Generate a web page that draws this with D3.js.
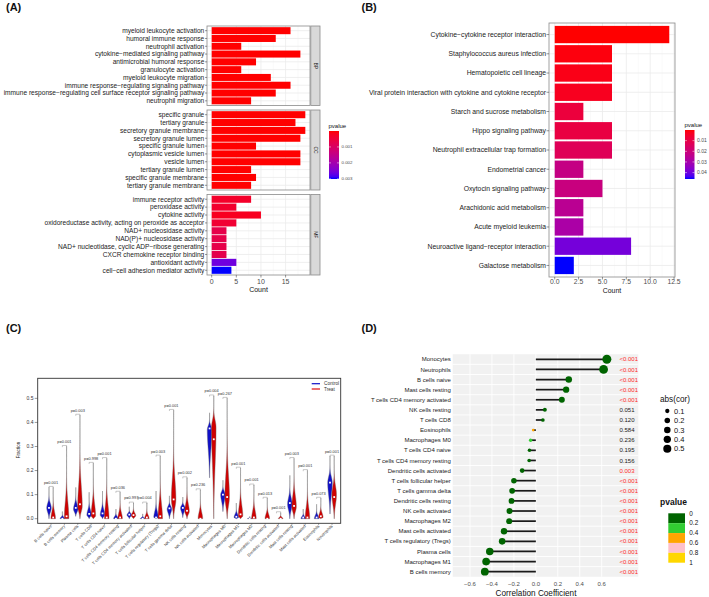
<!DOCTYPE html>
<html>
<head>
<meta charset="utf-8">
<script src="https://cdn.jsdelivr.net/npm/d3@7/dist/d3.min.js"></script>
<style>
body { margin: 0; background: #fff; }
text { font-family: "Liberation Sans", Arial, sans-serif; }
</style>
</head>
<body>
<svg id="canvas" width="709" height="597"></svg>
<script>
// ---------- (A) GO enrichment ----------
let bpTerms = ['myeloid leukocyte activation', 'humoral immune response', 'neutrophil activation',
  'cytokine\u2212mediated signaling pathway', 'antimicrobial humoral response', 'granulocyte activation',
  'myeloid leukocyte migration', 'immune response\u2212regulating signaling pathway',
  'immune response\u2212regulating cell surface receptor signaling pathway', 'neutrophil migration']
let bpCounts = [16, 13, 6, 18, 9, 6, 12, 16, 13, 8]
let bpPvalues = [1e-9, 1e-9, 1e-9, 1e-9, 1e-9, 1e-9, 1e-9, 1e-9, 1e-9, 1e-9]

let ccTerms = ['specific granule', 'tertiary granule', 'secretory granule membrane', 'secretory granule lumen',
  'specific granule lumen', 'cytoplasmic vesicle lumen', 'vesicle lumen', 'tertiary granule lumen',
  'specific granule membrane', 'tertiary granule membrane']
let ccCounts = [19, 17, 19, 18, 9, 18, 18, 8, 9, 8]
let ccPvalues = [1e-9, 1e-9, 1e-9, 1e-9, 1e-9, 1e-9, 1e-9, 1e-9, 1e-9, 1e-9]

let mfTerms = ['immune receptor activity', 'peroxidase activity', 'cytokine activity',
  'oxidoreductase activity, acting on peroxide as acceptor', 'NAD+ nucleosidase activity',
  'NAD(P)+ nucleosidase activity', 'NAD+ nucleotidase, cyclic ADP\u2212ribose generating',
  'CXCR chemokine receptor binding', 'antioxidant activity', 'cell\u2212cell adhesion mediator activity']
let mfCounts = [8, 5, 10, 5, 3, 3, 3, 3, 5, 4]
let mfPvalues = [0.0003, 0.00035, 0.0002, 0.0004, 0.00068, 0.00068, 0.00068, 0.00072, 0.0026, 0.00301]

let goTicks = [0, 5, 10, 15]
let goLegendTicks = [0.001, 0.002, 0.003]

// ---------- (B) KEGG enrichment ----------
let keggTerms = ['Cytokine\u2212cytokine receptor interaction', 'Staphylococcus aureus infection',
  'Hematopoietic cell lineage', 'Viral protein interaction with cytokine and cytokine receptor',
  'Starch and sucrose metabolism', 'Hippo signaling pathway', 'Neutrophil extracellular trap formation',
  'Endometrial cancer', 'Oxytocin signaling pathway', 'Arachidonic acid metabolism',
  'Acute myeloid leukemia', 'Neuroactive ligand\u2212receptor interaction', 'Galactose metabolism']
let keggCounts = [12, 6, 6, 6, 3, 6, 6, 3, 5, 3, 3, 8, 2]
let keggPvalues = [0.00001, 0.001, 0.002, 0.003, 0.008, 0.009, 0.013, 0.022, 0.021, 0.025, 0.029, 0.039, 0.046]
let keggTicks = [0, 2.5, 5, 7.5, 10, 12.5]
let keggLegendTicks = [0.01, 0.02, 0.03, 0.04]

// ---------- (C) immune infiltration violins ----------
let cellTypes = ['B cells naive', 'B cells memory', 'Plasma cells', 'T cells CD8', 'T cells CD4 naive',
  'T cells CD4 memory resting', 'T cells CD4 memory activated', 'T cells follicular helper',
  'T cells regulatory (Tregs)', 'T cells gamma delta', 'NK cells resting', 'NK cells activated',
  'Monocytes', 'Macrophages M0', 'Macrophages M1', 'Macrophages M2', 'Dendritic cells resting',
  'Dendritic cells activated', 'Mast cells resting', 'Mast cells activated', 'Eosinophils', 'Neutrophils']
let violinP = ['p=0.001', 'p=0.001', 'p=0.003', 'p=0.998', 'p=0.001', 'p=0.036', 'p=0.997', 'p=0.004',
  'p=0.003', 'p=0.001', 'p=0.002', 'p=0.236', 'p=0.004', 'p=0.267', 'p=0.001', 'p=0.001', 'p=0.013',
  'p=0.001', 'p=0.003', 'p=0.001', 'p=0.073', 'p=0.001']
// control group: min, max, median, densest value
let controlMin = [0, 0, 0.01, 0, 0, 0, 0, 0, 0, 0, 0.005, 0, 0.17, 0.03, 0, 0, 0, 0, 0, 0, 0, 0.02]
let controlMax = [0.13, 0.03, 0.13, 0.11, 0.115, 0.04, 0.05, 0.02, 0.115, 0.095, 0.09, 0, 0.44, 0.16, 0.065, 0.01, 0, 0, 0.18, 0.04, 0.06, 0.26]
let controlMedian = [0.045, 0, 0.045, 0.02, 0.022, 0, 0.017, 0, 0.005, 0.043, 0.045, 0, 0.375, 0.1, 0.008, 0, 0, 0, 0.065, 0.005, 0.005, 0.15]
let controlMode = [0.045, 0, 0.04, 0.015, 0.015, 0, 0.015, 0, 0.005, 0.04, 0.045, 0, 0.37, 0.1, 0.005, 0, 0, 0, 0.06, 0, 0, 0.15]
// treat group
let treatMin = [0, 0, 0, 0, 0, 0, 0, 0, 0, 0, 0, 0, 0, 0, 0, 0, 0, 0, 0, 0, 0, 0]
let treatMax = [0.13, 0.3, 0.43, 0.23, 0.25, 0.11, 0.065, 0.065, 0.26, 0.45, 0.17, 0.12, 0.51, 0.5, 0.21, 0.14, 0.085, 0.025, 0.25, 0.2, 0.085, 0.26]
let treatMedian = [0.005, 0.01, 0.06, 0.022, 0.005, 0.005, 0.015, 0.005, 0.01, 0.08, 0.033, 0, 0.33, 0.09, 0.018, 0.005, 0, 0, 0.053, 0.005, 0.01, 0.09]
let treatMode = [0, 0, 0.05, 0.01, 0, 0, 0.012, 0, 0, 0.08, 0.03, 0, 0.38, 0.09, 0.01, 0, 0, 0, 0.05, 0, 0.005, 0.1]
let fractionTicks = [0, 0.1, 0.2, 0.3, 0.4, 0.5]

// ---------- (D) correlation lollipop ----------
let corCells = ['Monocytes', 'Neutrophils', 'B cells naive', 'Mast cells resting', 'T cells CD4 memory activated',
  'NK cells resting', 'T cells CD8', 'Eosinophils', 'Macrophages M0', 'T cells CD4 naive',
  'T cells CD4 memory resting', 'Dendritic cells activated', 'T cells follicular helper', 'T cells gamma delta',
  'Dendritic cells resting', 'NK cells activated', 'Macrophages M2', 'Mast cells activated',
  'T cells regulatory (Tregs)', 'Plasma cells', 'Macrophages M1', 'B cells memory']
let corValues = [0.647, 0.617, 0.30, 0.276, 0.237, 0.082, 0.064, -0.024, -0.048, -0.058, -0.061, -0.125,
  -0.2, -0.216, -0.222, -0.24, -0.243, -0.29, -0.307, -0.42, -0.453, -0.465]
let corPvalues = [0.0005, 0.0005, 0.0005, 0.0005, 0.0005, 0.051, 0.120, 0.584, 0.236, 0.195, 0.156, 0.003,
  0.0005, 0.0005, 0.0005, 0.0005, 0.0005, 0.0005, 0.0005, 0.0005, 0.0005, 0.0005]
let corPText = ['<0.001', '<0.001', '<0.001', '<0.001', '<0.001', '0.051', '0.120', '0.584', '0.236', '0.195',
  '0.156', '0.003', '<0.001', '<0.001', '<0.001', '<0.001', '<0.001', '<0.001', '<0.001', '<0.001', '<0.001', '<0.001']
let corTicks = [-0.6, -0.4, -0.2, 0, 0.2, 0.4, 0.6]
let sizeBreaks = [0.1, 0.2, 0.3, 0.4, 0.5]
let pBreaks = [0, 0.2, 0.4, 0.6, 0.8, 1]
let pBinColors = ['#006400', '#32cd32', '#ffa500', '#ffc0cb', '#ffd700']

let svg = d3.select('#canvas')
let defs = svg.append('defs')

let panelLetter = (x, y, t) => {
  svg.append('text').attr('x', x).attr('y', y).text(t)
    .attr('font-size', 11).attr('font-weight', 'bold').attr('fill', '#111')
}
panelLetter(6, 10.5, '(A)')
panelLetter(361.5, 10.5, '(B)')
panelLetter(6, 331.5, '(C)')
panelLetter(361.5, 331.5, '(D)')

let makeGradient = (id, color, lo, hi) => {
  let grad = defs.append('linearGradient').attr('id', id)
    .attr('x1', 0).attr('y1', 0).attr('x2', 0).attr('y2', 1)
  d3.range(0, 1.0001, 0.05).forEach((t) => {
    grad.append('stop').attr('offset', t).attr('stop-color', color(lo + t * (hi - lo)))
  })
}

// ================= panel A =================
let goAll = [...bpPvalues, ...ccPvalues, ...mfPvalues]
let goMin = d3.min(goAll), goMax = d3.max(goAll)
let colorA = d3.scaleLinear().domain([goMin, goMax]).range(['red', 'blue']).interpolate(d3.interpolateLab)
let xA = d3.scaleLinear().domain([-0.95, 19.95]).range([207, 310])

let goPanels = [
  {terms: bpTerms, counts: bpCounts, p: bpPvalues, strip: 'BP', top: 26, bottom: 105.5},
  {terms: ccTerms, counts: ccCounts, p: ccPvalues, strip: 'CC', top: 110, bottom: 190},
  {terms: mfTerms, counts: mfCounts, p: mfPvalues, strip: 'MF', top: 194.5, bottom: 275}
]

goPanels.forEach((panel) => {
  let y = d3.scaleBand().domain(panel.terms).range([panel.top, panel.bottom])
    .paddingInner(0.1).paddingOuter(0.15)
  let g = svg.append('g')
  g.append('rect').attr('x', 207).attr('y', panel.top).attr('width', 103)
    .attr('height', panel.bottom - panel.top).attr('fill', '#fff')
  g.selectAll('line.minor').data([2.5, 7.5, 12.5, 17.5]).join('line')
    .attr('x1', d => xA(d)).attr('x2', d => xA(d)).attr('y1', panel.top).attr('y2', panel.bottom)
    .attr('stroke', '#f4f4f4').attr('stroke-width', 0.5)
  g.selectAll('line.major').data(goTicks).join('line')
    .attr('x1', d => xA(d)).attr('x2', d => xA(d)).attr('y1', panel.top).attr('y2', panel.bottom)
    .attr('stroke', '#ebebeb').attr('stroke-width', 0.8)
  g.selectAll('line.hgrid').data(panel.terms).join('line')
    .attr('x1', 207).attr('x2', 310)
    .attr('y1', d => y(d) + y.bandwidth() / 2).attr('y2', d => y(d) + y.bandwidth() / 2)
    .attr('stroke', '#ebebeb').attr('stroke-width', 0.8)
  g.selectAll('rect.bar').data(panel.terms).join('rect')
    .attr('x', xA(0)).attr('y', d => y(d))
    .attr('width', (d, i) => xA(panel.counts[i]) - xA(0))
    .attr('height', y.bandwidth())
    .attr('fill', (d, i) => colorA(panel.p[i]))
  g.append('rect').attr('x', 207).attr('y', panel.top).attr('width', 103)
    .attr('height', panel.bottom - panel.top).attr('fill', 'none')
    .attr('stroke', '#8a8a8a').attr('stroke-width', 0.8)
  g.append('rect').attr('x', 310.8).attr('y', panel.top).attr('width', 9.2)
    .attr('height', panel.bottom - panel.top).attr('fill', '#d9d9d9')
    .attr('stroke', '#8a8a8a').attr('stroke-width', 0.8)
  g.append('text').text(panel.strip)
    .attr('transform', 'translate(315.4,' + (panel.top + panel.bottom) / 2 + ') rotate(90)')
    .attr('text-anchor', 'middle').attr('dy', '0.35em')
    .attr('font-size', 5).attr('fill', '#1a1a1a')
  g.selectAll('text.term').data(panel.terms).join('text')
    .text(d => d)
    .attr('x', 204.3).attr('y', d => y(d) + y.bandwidth() / 2).attr('dy', '0.35em')
    .attr('text-anchor', 'end').attr('font-size', 6.6).attr('fill', '#222')
  g.selectAll('line.ytick').data(panel.terms).join('line')
    .attr('x1', 205).attr('x2', 207)
    .attr('y1', d => y(d) + y.bandwidth() / 2).attr('y2', d => y(d) + y.bandwidth() / 2)
    .attr('stroke', '#333').attr('stroke-width', 0.5)
})

svg.selectAll('line.xtickA').data(goTicks).join('line')
  .attr('x1', d => xA(d)).attr('x2', d => xA(d)).attr('y1', 275).attr('y2', 277.5)
  .attr('stroke', '#333').attr('stroke-width', 0.5)
svg.selectAll('text.xtickA').data(goTicks).join('text')
  .text(d => d).attr('x', d => xA(d)).attr('y', 283.8)
  .attr('text-anchor', 'middle').attr('font-size', 7).attr('fill', '#4d4d4d')
svg.append('text').text('Count').attr('x', 258.5).attr('y', 291.5)
  .attr('text-anchor', 'middle').attr('font-size', 7).attr('fill', '#111')

// legend A
makeGradient('gradA', colorA, goMin, goMax)
let legA = d3.scaleLinear().domain([goMin, goMax]).range([131, 179])
svg.append('text').text('pvalue').attr('x', 328.5).attr('y', 127.5).attr('font-size', 6).attr('fill', '#111')
svg.append('rect').attr('x', 329).attr('y', 131).attr('width', 10).attr('height', 48).attr('fill', 'url(#gradA)')
goLegendTicks.forEach((t) => {
  svg.append('line').attr('x1', 329).attr('x2', 331).attr('y1', legA(t)).attr('y2', legA(t)).attr('stroke', '#fff').attr('stroke-width', 0.5)
  svg.append('line').attr('x1', 337).attr('x2', 339).attr('y1', legA(t)).attr('y2', legA(t)).attr('stroke', '#fff').attr('stroke-width', 0.5)
  svg.append('text').text(t).attr('x', 341.5).attr('y', legA(t)).attr('dy', '0.35em')
    .attr('font-size', 4.4).attr('fill', '#4d4d4d')
})

// ================= panel B =================
let colorB = d3.scaleLinear().domain([d3.min(keggPvalues), d3.max(keggPvalues)])
  .range(['red', 'blue']).interpolate(d3.interpolateLab)
let xB = d3.scaleLinear().domain([-0.6, 12.6]).range([549, 675])
let yB = d3.scaleBand().domain(keggTerms).range([23, 277]).paddingInner(0.1).paddingOuter(0.15)

let gB = svg.append('g')
gB.selectAll('line.minor').data([1.25, 3.75, 6.25, 8.75, 11.25]).join('line')
  .attr('x1', d => xB(d)).attr('x2', d => xB(d)).attr('y1', 23).attr('y2', 277)
  .attr('stroke', '#f4f4f4').attr('stroke-width', 0.5)
gB.selectAll('line.major').data(keggTicks).join('line')
  .attr('x1', d => xB(d)).attr('x2', d => xB(d)).attr('y1', 23).attr('y2', 277)
  .attr('stroke', '#ebebeb').attr('stroke-width', 0.8)
gB.selectAll('line.hgrid').data(keggTerms).join('line')
  .attr('x1', 549).attr('x2', 675)
  .attr('y1', d => yB(d) + yB.bandwidth() / 2).attr('y2', d => yB(d) + yB.bandwidth() / 2)
  .attr('stroke', '#ebebeb').attr('stroke-width', 0.8)
gB.selectAll('rect.bar').data(keggTerms).join('rect')
  .attr('x', xB(0)).attr('y', d => yB(d))
  .attr('width', (d, i) => xB(keggCounts[i]) - xB(0))
  .attr('height', yB.bandwidth())
  .attr('fill', (d, i) => colorB(keggPvalues[i]))
gB.append('rect').attr('x', 549).attr('y', 23).attr('width', 126).attr('height', 254)
  .attr('fill', 'none').attr('stroke', '#8a8a8a').attr('stroke-width', 0.8)
gB.selectAll('text.term').data(keggTerms).join('text')
  .text(d => d).attr('x', 546).attr('y', d => yB(d) + yB.bandwidth() / 2).attr('dy', '0.35em')
  .attr('text-anchor', 'end').attr('font-size', 6.8).attr('fill', '#222')
gB.selectAll('line.ytick').data(keggTerms).join('line')
  .attr('x1', 546.5).attr('x2', 549)
  .attr('y1', d => yB(d) + yB.bandwidth() / 2).attr('y2', d => yB(d) + yB.bandwidth() / 2)
  .attr('stroke', '#333').attr('stroke-width', 0.5)
gB.selectAll('line.xtick').data(keggTicks).join('line')
  .attr('x1', d => xB(d)).attr('x2', d => xB(d)).attr('y1', 277).attr('y2', 279.5)
  .attr('stroke', '#333').attr('stroke-width', 0.5)
gB.selectAll('text.xtick').data(keggTicks).join('text')
  .text(d => d3.format('.1f')(d)).attr('x', d => xB(d)).attr('y', 284.3)
  .attr('text-anchor', 'middle').attr('font-size', 6.8).attr('fill', '#4d4d4d')
gB.append('text').text('Count').attr('x', 612).attr('y', 292.5)
  .attr('text-anchor', 'middle').attr('font-size', 6.9).attr('fill', '#111')

makeGradient('gradB', colorB, d3.min(keggPvalues), d3.max(keggPvalues))
let legB = d3.scaleLinear().domain([d3.min(keggPvalues), d3.max(keggPvalues)]).range([130, 179])
svg.append('text').text('pvalue').attr('x', 684.5).attr('y', 127).attr('font-size', 6).attr('fill', '#111')
svg.append('rect').attr('x', 685).attr('y', 130).attr('width', 9.5).attr('height', 49).attr('fill', 'url(#gradB)')
keggLegendTicks.forEach((t) => {
  svg.append('line').attr('x1', 685).attr('x2', 687).attr('y1', legB(t)).attr('y2', legB(t)).attr('stroke', '#fff').attr('stroke-width', 0.5)
  svg.append('line').attr('x1', 692.5).attr('x2', 694.5).attr('y1', legB(t)).attr('y2', legB(t)).attr('stroke', '#fff').attr('stroke-width', 0.5)
  svg.append('text').text(t).attr('x', 697).attr('y', legB(t)).attr('dy', '0.35em')
    .attr('font-size', 5).attr('fill', '#4d4d4d')
})

// ================= panel C =================
let xC = d3.scalePoint().domain(cellTypes).range([51, 332])
let yC = d3.scaleLinear().domain([0, 0.5]).range([518.7, 398.35])
let halfWidth = 2.3
let gC = svg.append('g')

let drawViolin = (cx, lo, hi, mode, med, fill) => {
  if (hi <= lo) return
  let pts = d3.range(0, 61).map((k) => {
    let v = lo + (hi - lo) * k / 60
    let s = v < mode ? (mode - lo) / 2.5 : (hi - mode) / 4.6
    let w = s > 0 ? Math.exp(-0.5 * Math.pow((v - mode) / s, 2)) : 1
    return [v, w]
  })
  let area = d3.area()
    .y(d => yC(d[0]))
    .x0(d => cx - d[1] * halfWidth)
    .x1(d => cx + d[1] * halfWidth)
    .curve(d3.curveBasis)
  gC.append('path').attr('d', area(pts)).attr('fill', fill)
    .attr('stroke', '#6a6a6a').attr('stroke-width', 0.4)
  gC.append('rect').attr('x', cx - 0.9).attr('y', yC(med) - 0.9).attr('width', 1.8).attr('height', 1.8)
    .attr('fill', '#fff')
}

gC.selectAll('line.ytick').data(fractionTicks).join('line')
  .attr('x1', 34.7).attr('x2', 37.7).attr('y1', d => yC(d)).attr('y2', d => yC(d))
  .attr('stroke', '#333').attr('stroke-width', 0.5)
gC.selectAll('text.ytick').data(fractionTicks).join('text')
  .text(d => d3.format('.1f')(d)).attr('x', 33.5).attr('y', d => yC(d)).attr('dy', '0.35em')
  .attr('text-anchor', 'end').attr('font-size', 5).attr('fill', '#333')
gC.append('text').text('Fraction').attr('transform', 'translate(20,450) rotate(-90)')
  .attr('text-anchor', 'middle').attr('font-size', 4.6).attr('fill', '#222')

cellTypes.forEach((cell, i) => {
  let cx = xC(cell)
  drawViolin(cx - 2, controlMin[i], controlMax[i], controlMode[i], controlMedian[i], '#1010c8')
  drawViolin(cx + 2.2, treatMin[i], treatMax[i], treatMode[i], treatMedian[i], '#d00000')
  let top = yC(Math.max(controlMax[i], treatMax[i]) + 0.004)
  gC.append('path')
    .attr('d', 'M' + (cx - 2) + ',' + (top + 1.6) + 'V' + top + 'H' + (cx + 2.2) + 'V' + (top + 1.6))
    .attr('fill', 'none').attr('stroke', '#777').attr('stroke-width', 0.4)
  gC.append('text').text(violinP[i]).attr('x', cx).attr('y', top - 2.6)
    .attr('text-anchor', 'middle').attr('font-size', 3.9).attr('fill', '#333')
  gC.append('text').text(cell)
    .attr('transform', 'translate(' + (cx + 1) + ',526.5) rotate(-45)')
    .attr('text-anchor', 'end').attr('font-size', 4.1).attr('fill', '#333')
  gC.append('line').attr('x1', cx).attr('x2', cx).attr('y1', 523.3).attr('y2', 525)
    .attr('stroke', '#333').attr('stroke-width', 0.4)
})
gC.append('rect').attr('x', 37.7).attr('y', 378.3).attr('width', 303).attr('height', 145)
  .attr('fill', 'none').attr('stroke', '#333').attr('stroke-width', 0.9)

let groups = [['Control', '#1010c8', 383.7], ['Treat', '#e01010', 389]]
groups.forEach((grp) => {
  gC.append('line').attr('x1', 311.7).attr('x2', 320).attr('y1', grp[2]).attr('y2', grp[2])
    .attr('stroke', grp[1]).attr('stroke-width', 1.2)
  gC.append('text').text(grp[0]).attr('x', 324).attr('y', grp[2]).attr('dy', '0.35em')
    .attr('font-size', 4.7).attr('fill', '#333')
})

// ================= panel D =================
let xD = d3.scaleLinear().domain([-0.6, 0.6]).range([470, 601.7])
let yD = d3.scalePoint().domain(corCells).range([359.3, 571.7])
let rowStep = yD.step()
let rD = d3.scaleSqrt().domain([0, 0.65]).range([0.62, 4.5])
let colorD = d3.scaleThreshold().domain([0.2, 0.4, 0.6, 0.8]).range(pBinColors)
let gD = svg.append('g')

gD.append('rect').attr('x', 452.7).attr('y', 359.3 - rowStep / 2).attr('width', 185.6)
  .attr('height', 212.4 + rowStep).attr('fill', '#f1f1f1')
gD.selectAll('line.vgrid').data(corTicks).join('line')
  .attr('x1', d => xD(d)).attr('x2', d => xD(d)).attr('y1', 359.3 - rowStep / 2).attr('y2', 571.7 + rowStep / 2)
  .attr('stroke', '#fff').attr('stroke-width', 0.9)
gD.selectAll('line.hgrid').data(corCells.slice(1)).join('line')
  .attr('x1', 452.7).attr('x2', 638.3)
  .attr('y1', d => yD(d) - rowStep / 2).attr('y2', d => yD(d) - rowStep / 2)
  .attr('stroke', '#fff').attr('stroke-width', 0.9)
gD.selectAll('line.stick').data(corCells).join('line')
  .attr('x1', xD(0)).attr('x2', (d, i) => xD(corValues[i]))
  .attr('y1', d => yD(d)).attr('y2', d => yD(d))
  .attr('stroke', '#1a1a1a').attr('stroke-width', 1.7)
gD.selectAll('circle.dot').data(corCells).join('circle')
  .attr('cx', (d, i) => xD(corValues[i])).attr('cy', d => yD(d))
  .attr('r', (d, i) => rD(Math.abs(corValues[i])))
  .attr('fill', (d, i) => colorD(corPvalues[i]))
gD.selectAll('text.cell').data(corCells).join('text')
  .text(d => d).attr('x', 450.8).attr('y', d => yD(d)).attr('dy', '0.35em')
  .attr('text-anchor', 'end').attr('font-size', 6).attr('fill', '#1a1a1a')
gD.selectAll('text.pv').data(corCells).join('text')
  .text((d, i) => corPText[i]).attr('x', 619.5).attr('y', d => yD(d)).attr('dy', '0.35em')
  .attr('font-size', 6).attr('fill', (d, i) => corPvalues[i] < 0.05 ? '#ff2a2a' : '#1a1a1a')
gD.selectAll('text.xtick').data(corTicks).join('text')
  .text(d => d3.format('.1f')(d)).attr('x', d => xD(d)).attr('y', 586.3)
  .attr('text-anchor', 'middle').attr('font-size', 6).attr('fill', '#4d4d4d')
gD.append('text').text('Correlation Coefficient').attr('x', 536).attr('y', 596)
  .attr('text-anchor', 'middle').attr('font-size', 8.2).attr('fill', '#111')

// size legend
gD.append('text').text('abs(cor)').attr('x', 660).attr('y', 402).attr('font-size', 8.2).attr('fill', '#111')
sizeBreaks.forEach((s, k) => {
  let cy = 411 + k * 9.45
  gD.append('circle').attr('cx', 667.3).attr('cy', cy).attr('r', rD(s)).attr('fill', '#000')
  gD.append('text').text(s).attr('x', 674).attr('y', cy).attr('dy', '0.35em')
    .attr('font-size', 7.5).attr('fill', '#111')
})

// p-value legend
gD.append('text').text('pvalue').attr('x', 660).attr('y', 504.5)
  .attr('font-size', 8.5).attr('font-weight', 'bold').attr('fill', '#111')
let legD = d3.scaleLinear().domain([0, 1]).range([513.3, 562.7])
pBinColors.forEach((c, k) => {
  gD.append('rect').attr('x', 668.3).attr('y', legD(pBreaks[k])).attr('width', 16.7)
    .attr('height', legD(pBreaks[k + 1]) - legD(pBreaks[k])).attr('fill', c)
})
pBreaks.forEach((b) => {
  gD.append('text').text(b).attr('x', 689.3).attr('y', legD(b)).attr('dy', '0.35em')
    .attr('font-size', 6.4).attr('fill', '#111')
})
</script>
</body>
</html>
